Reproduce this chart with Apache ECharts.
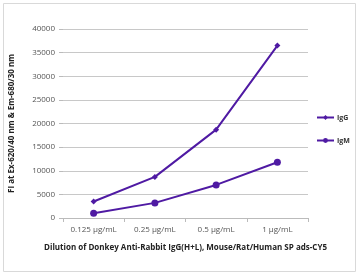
<!DOCTYPE html>
<html>
<head>
<meta charset="utf-8">
<script src="https://cdn.jsdelivr.net/npm/echarts@6/dist/echarts.min.js"></script>
<style>
html, body { margin: 0; padding: 0; background: #fff; }
#main { width: 359px; height: 275px; }
</style>
</head>
<body>
<div id="main"></div>
<script>
// data
const categories = ['0.125 µg/mL', '0.25 µg/mL', '0.5 µg/mL', '1 µg/mL']
const igG = [3500, 8700, 18700, 36500]
const igM = [1000, 3200, 7000, 11800]

const chart = echarts.init(document.getElementById('main'))
const lineColor = '#4f1aa3'

const option = {
    animation: false,
    textStyle: { fontFamily: 'Open Sans' },
    graphic: [
        {
            type: 'rect',
            shape: { x: 3.5, y: 3.5, width: 352, height: 268 },
            style: { fill: 'none', stroke: '#d9d9d9', lineWidth: 1 },
        },
    ],
    grid: { left: 60, right: 51, top: 29, bottom: 57 },
    legend: {
        orient: 'vertical',
        left: 316,
        top: 114,
        padding: 0,
        itemWidth: 17,
        itemHeight: 6,
        itemGap: 16,
        textStyle: { fontSize: 7, fontWeight: 'bold', color: '#333', padding: [0, 0, 0, -2] },
        data: ['IgG', 'IgM'],
    },
    xAxis: {
        type: 'category',
        data: categories,
        boundaryGap: true,
        name: 'Dilution of Donkey Anti-Rabbit IgG(H+L), Mouse/Rat/Human SP ads-CY5',
        nameLocation: 'middle',
        nameGap: 26,
        nameTextStyle: { fontSize: 8, fontWeight: 'bold', color: '#222' },
        axisLine: { lineStyle: { color: '#bbb' } },
        axisTick: { show: true, length: 4, lineStyle: { color: '#bbb' } },
        axisLabel: { fontSize: 8, color: '#555', margin: 8 },
    },
    yAxis: {
        type: 'value',
        min: 0,
        max: 40000,
        interval: 5000,
        name: 'FI at Ex-620/40 nm & Em-680/30 nm',
        nameLocation: 'middle',
        nameGap: 47,
        nameTextStyle: { fontSize: 8, fontWeight: 'bold', color: '#222' },
        axisLine: { show: false },
        axisTick: { show: true, length: 4, lineStyle: { color: '#bbb' } },
        axisLabel: { fontSize: 8, color: '#555', margin: 8, formatter: (v) => String(v) },
        splitLine: { lineStyle: { color: '#c8c8c8' } },
    },
    series: [
        {
            name: 'IgG',
            type: 'line',
            data: igG,
            symbol: 'diamond',
            symbolSize: 6,
            lineStyle: { color: lineColor, width: 2 },
            itemStyle: { color: lineColor },
        },
        {
            name: 'IgM',
            type: 'line',
            data: igM,
            symbol: 'circle',
            symbolSize: 7,
            lineStyle: { color: lineColor, width: 2 },
            itemStyle: { color: lineColor },
        },
    ],
}
chart.setOption(option)
</script>
</body>
</html>
